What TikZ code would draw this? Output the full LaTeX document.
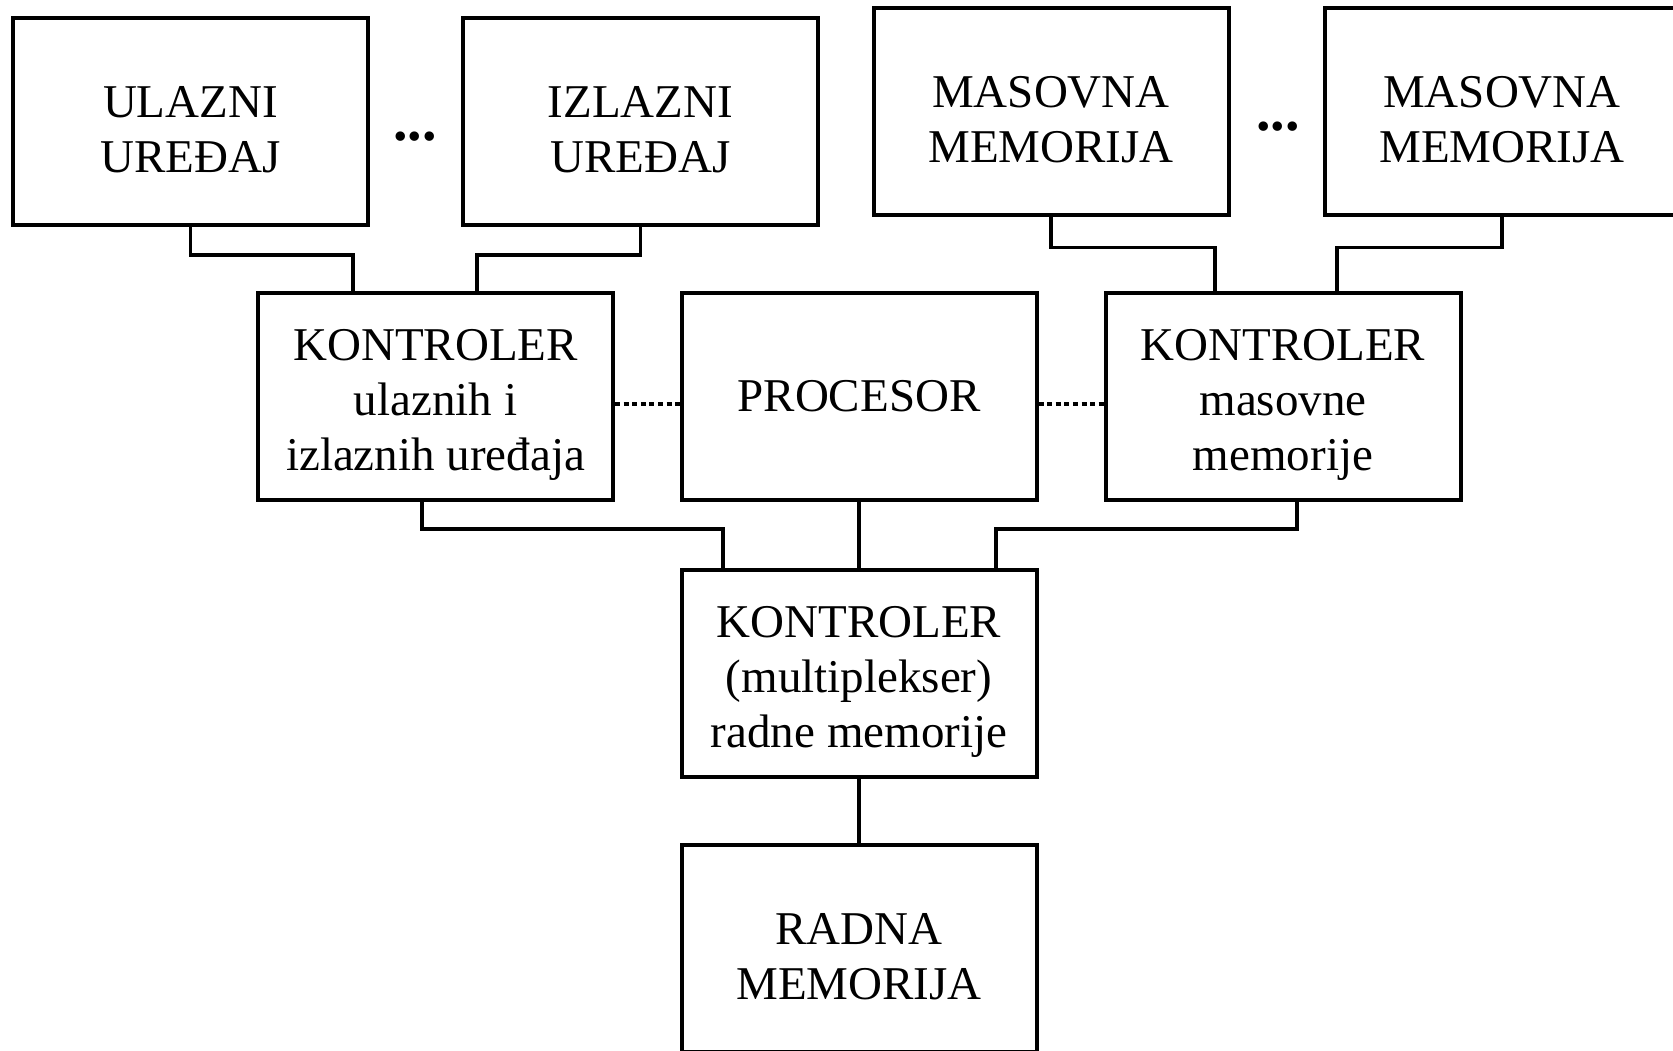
\documentclass[tikz,border=0pt]{standalone}
\usepackage{fontspec}
\setmainfont{Liberation Serif}
\usetikzlibrary{positioning,calc}
\newcommand{\gore}{\rule{0pt}{24pt}}

\begin{document}
\begin{tikzpicture}[x=0.5pt,y=-0.5pt,
        blok/.style={draw,line width=2pt,minimum width=177.5pt,minimum height=103.5pt,
            inner sep=0pt,align=center,font=\fontsize{23.5}{27.5}\selectfont},
        veza/.style={line width=1.8pt},
        tackice/.style={line width=1.8pt,dash pattern=on 2.5pt off 1.8pt},
        tritacke/.style={font=\fontsize{29}{30}\selectfont\bfseries,inner sep=0pt}]
    \useasboundingbox (0,0) rectangle (1673,1050);
    % uredjaji i masovne memorije
    \node[blok] (ulaz) at (190.5,121.5) {\gore ULAZNI\\UREĐAJ};
    \node[blok] (izlaz) at (640.5,121.5) {\gore IZLAZNI\\UREĐAJ};
    \node[blok] (mas1) at (1051,111) {\gore MASOVNA\\MEMORIJA};
    \node[blok] (mas2) at (1502,111) {\gore MASOVNA\\MEMORIJA};
    \node[tritacke] (dots1) at (415,137) {...};
    \node[tritacke] (dots2) at (1278,127) {...};
    % kontroleri i procesor
    \node[blok] (k1) at (435.5,396.5) {\gore KONTROLER\\ulaznih i\\izlaznih uređaja};
    \node[blok] (proc) at (859,396.5) {PROCESOR};
    \node[blok] (k2) at (1283,396.5) {\gore KONTROLER\\masovne\\memorije};
    \node[blok] (mux) at (859,673.5) {\gore KONTROLER\\(multiplekser)\\radne memorije};
    \node[blok] (radna) at (859,948.5) {\gore RADNA\\MEMORIJA};
    % veze
    \draw[veza] (ulaz.south) -- ++(0,28) -| ([xshift=-41.25pt]k1.north);
    \draw[veza] (izlaz.south) -- ++(0,28) -| ([xshift=20.75pt]k1.north);
    \draw[veza] (mas1.south) -- ++(0,31) -| ([xshift=-34pt]k2.north);
    \draw[veza] (mas2.south) -- ++(0,31) -| ([xshift=27pt]k2.north);
    \draw[veza] ([xshift=-6.75pt]k1.south) -- ++(0,27) -| ([xshift=-68pt]mux.north);
    \draw[veza] ([xshift=7pt]k2.south) -- ++(0,27) -| ([xshift=68.5pt]mux.north);
    \draw[veza] (proc.south) -- (mux.north);
    \draw[veza] (mux.south) -- (radna.north);
    \draw[tackice] ([yshift=-3.75pt]k1.east) -- ([yshift=-3.75pt]proc.west);
    \draw[tackice] ([yshift=-3.75pt]proc.east) -- ([yshift=-3.75pt]k2.west);
\end{tikzpicture}
\end{document}
